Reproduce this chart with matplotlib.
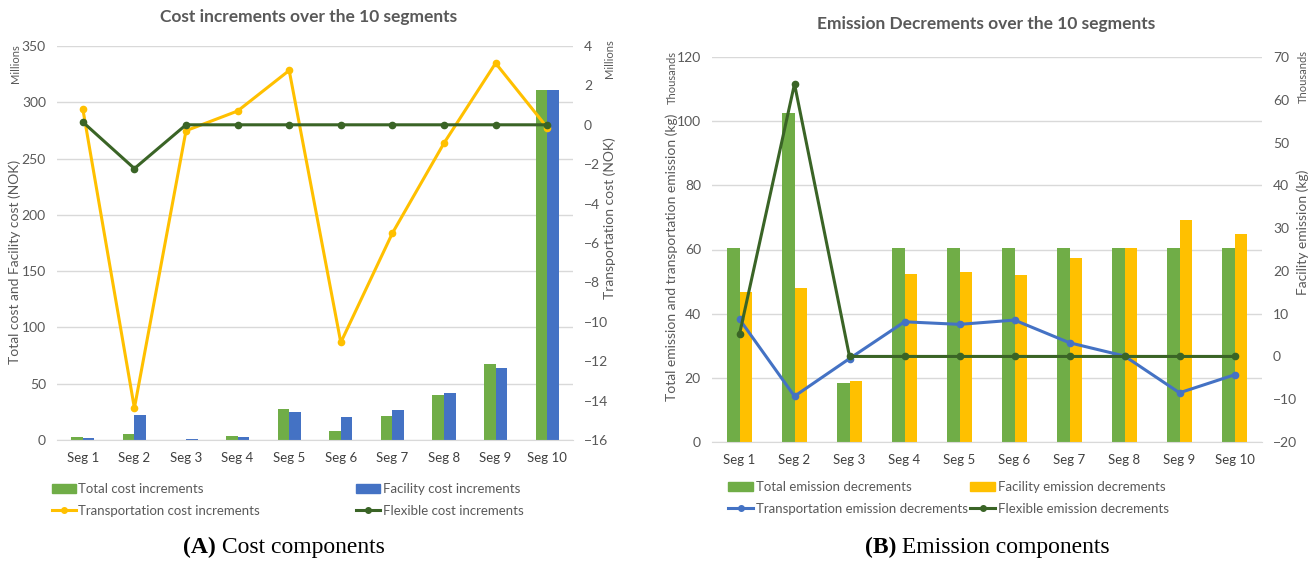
import matplotlib
matplotlib.use("Agg")
import matplotlib.pyplot as plt
from matplotlib.lines import Line2D
from matplotlib.patches import Patch
import numpy as np

plt.rcParams['font.family'] = ['Lato', 'DejaVu Sans']

segments = ['Seg 1', 'Seg 2', 'Seg 3', 'Seg 4', 'Seg 5',
            'Seg 6', 'Seg 7', 'Seg 8', 'Seg 9', 'Seg 10']

# cost increments, millions NOK
total_cost = [2.5, 5.5, 0.0, 3.5, 27.3, 8.3, 21.3, 40.2, 67.2, 310.8]
facility_cost = [2.0, 22.5, 1.0, 3.0, 24.6, 20.2, 26.4, 41.4, 64.2, 310.8]
transport_cost = [0.81, -14.38, -0.30, 0.70, 2.76, -11.05, -5.50, -0.93, 3.13, -0.14]
flexible_cost = [0.14, -2.22, 0, 0, 0, 0, 0, 0, 0, 0]

# emission decrements, thousands kg
total_em = [60.4, 102.5, 18.5, 60.4, 60.4, 60.4, 60.4, 60.4, 60.4, 60.4]
facility_em = [46.6, 48.1, 19.0, 52.4, 53.0, 52.0, 57.4, 60.4, 69.1, 64.9]
transport_em = [8.7, -9.3, -0.5, 8.1, 7.5, 8.5, 3.2, 0.1, -8.5, -4.3]
flexible_em = [5.2, 63.7, 0, 0, 0, 0, 0, 0, 0, 0]

GREEN = '#70AD47'
BLUE = '#4472C4'
GOLD = '#FFC000'
DKGREEN = '#3A6426'
TXT = '#595959'
GRID = '#D9D9D9'

W, H = 1316, 563
fig = plt.figure(figsize=(W / 100, H / 100), dpi=100)


def px_axes(l, t, r, b):
    return fig.add_axes([l / W, 1 - b / H, (r - l) / W, (b - t) / H])


def vtext(xp, yp, s, size):
    fig.text(xp / W, 1 - yp / H, s, rotation=90, fontsize=size, color=TXT,
             ha='center', va='center')


def style(ax, ax2):
    for a in (ax, ax2):
        for s in a.spines.values():
            s.set_visible(False)
        a.tick_params(length=0, labelsize=10, labelcolor=TXT, pad=8)
    ax.spines['bottom'].set_visible(True)
    ax.spines['bottom'].set_color(GRID)
    ax.grid(axis='y', color=GRID, linewidth=1)
    ax.set_axisbelow(True)
    ax.tick_params(axis='x', labelcolor='#404040', labelsize=9.5, pad=9)


x = np.arange(len(segments))
bw = 0.225

# ---- (A) cost ----
axA = px_axes(57, 46, 573, 440)
axA2 = axA.twinx()
axA.bar(x - bw / 2, total_cost, bw, color=GREEN)
axA.bar(x + bw / 2, facility_cost, bw, color=BLUE)
axA2.plot(x, transport_cost, color=GOLD, lw=2.2, marker='o', ms=4.5)
axA2.plot(x, flexible_cost, color=DKGREEN, lw=2.2, marker='o', ms=4.5)
axA.set_ylim(0, 350)
axA.set_yticks(range(0, 351, 50))
axA2.set_ylim(-16, 4)
axA2.set_yticks(range(-16, 5, 2))
axA.set_xlim(-0.5, 9.5)
axA.set_xticks(x, segments)
style(axA, axA2)
fig.text(309 / W, 1 - 17 / H, 'Cost increments over the 10 segments', fontsize=12.5,
         fontweight='bold', color=TXT, ha='center', va='center')
vtext(15, 262, 'Total cost and Facility cost (NOK)', 10)
vtext(15, 64, 'Millions', 8)
vtext(610, 218, 'Transportation cost (NOK)', 10)
vtext(610, 59, 'Millions', 8)

hA = [Patch(color=GREEN), Line2D([], [], color=GOLD, lw=2.2, marker='o', ms=4),
      Patch(color=BLUE), Line2D([], [], color=DKGREEN, lw=2.2, marker='o', ms=4)]
lA = ['Total cost increments', 'Transportation cost increments',
      'Facility cost increments', 'Flexible cost increments']
fig.legend(hA, lA, ncol=2, frameon=False, fontsize=9.5, labelcolor=TXT,
           loc='upper left', bbox_to_anchor=(52 / W, 1 - 483 / H),
           handlelength=1.8, handletextpad=0.2, columnspacing=7.3,
           labelspacing=0.75, borderaxespad=0, borderpad=0)

# ---- (B) emission ----
axB = px_axes(712, 57, 1262, 442)
axB2 = axB.twinx()
axB.bar(x - bw / 2, total_em, bw, color=GREEN)
axB.bar(x + bw / 2, facility_em, bw, color=GOLD)
axB2.plot(x, transport_em, color=BLUE, lw=2.2, marker='o', ms=4.5)
axB2.plot(x, flexible_em, color=DKGREEN, lw=2.2, marker='o', ms=4.5)
axB.set_ylim(0, 120)
axB.set_yticks(range(0, 121, 20))
axB2.set_ylim(-20, 70)
axB2.set_yticks(range(-20, 71, 10))
axB.set_xlim(-0.5, 9.5)
axB.set_xticks(x, segments)
style(axB, axB2)
fig.text(986 / W, 1 - 24 / H, 'Emission Decrements over the 10 segments', fontsize=12.5,
         fontweight='bold', color=TXT, ha='center', va='center')
vtext(672, 257, 'Total emission and transportation emission (kg)', 10)
vtext(672, 78, 'Thousands', 8)
vtext(1303, 232, 'Facility emission (kg)', 10)
vtext(1303, 77, 'Thousands', 8)

hB = [Patch(color=GREEN), Line2D([], [], color=BLUE, lw=2.2, marker='o', ms=4),
      Patch(color=GOLD), Line2D([], [], color=DKGREEN, lw=2.2, marker='o', ms=4)]
lB = ['Total emission decrements', 'Transportation emission decrements',
      'Facility emission decrements', 'Flexible emission decrements']
fig.legend(hB, lB, ncol=2, frameon=False, fontsize=9.5, labelcolor=TXT,
           loc='upper left', bbox_to_anchor=(728 / W, 1 - 481 / H),
           handlelength=1.9, handletextpad=0.2, columnspacing=0.2,
           labelspacing=0.75, borderaxespad=0, borderpad=0)

# captions
for cx, tag, rest in [(284, '(A)', ' Cost components'), (987, '(B)', ' Emission components')]:
    t = fig.text(cx / W, 1 - 547 / H, tag + rest, fontsize=17, alpha=0,
                 family='Liberation Serif', ha='center', va='center')
    fig.canvas.draw()
    bb = t.get_window_extent()
    t.remove()
    a = fig.text(bb.x0 / W, 1 - 547 / H, tag, fontsize=17, fontweight='bold',
                 family='Liberation Serif', ha='left', va='center')
    abb = a.get_window_extent()
    fig.text(abb.x1 / W, 1 - 547 / H, rest, fontsize=17,
             family='Liberation Serif', ha='left', va='center')

fig.savefig('out.png', dpi=100)
